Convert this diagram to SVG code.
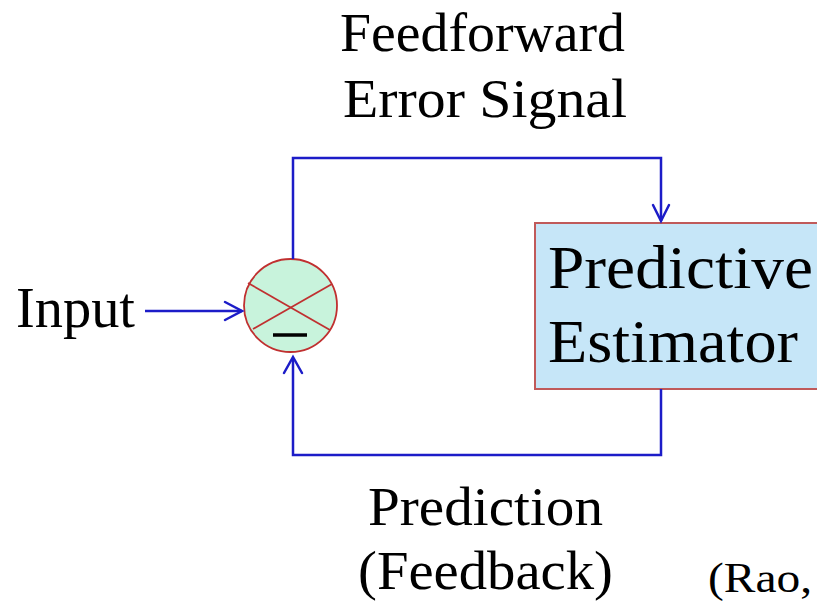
<svg xmlns="http://www.w3.org/2000/svg" width="817" height="602" viewBox="0 0 817 602">
<style>
.t{font-family:"Liberation Serif","Times New Roman",serif;fill:#000}
.c{fill:none;stroke:#1c1cc8;stroke-width:2.5;stroke-linejoin:miter}
.ah{fill:none;stroke:#1c1cc8;stroke-width:2.5;stroke-linecap:round;stroke-linejoin:miter}
</style>
<rect width="817" height="602" fill="#fff"/>
<g id="labels">
<text class="t" x="340" y="51" font-size="55" textLength="285" lengthAdjust="spacingAndGlyphs">Feedforward</text>
<text class="t" x="343" y="117" font-size="55" textLength="284" lengthAdjust="spacingAndGlyphs">Error Signal</text>
<text class="t" x="368" y="525" font-size="55" textLength="235" lengthAdjust="spacingAndGlyphs">Prediction</text>
<text class="t" x="358" y="589" font-size="55" textLength="255" lengthAdjust="spacingAndGlyphs">(Feedback)</text>
<text class="t" x="708" y="592" font-size="42" textLength="104" lengthAdjust="spacingAndGlyphs">(Rao,</text>
</g>
<g id="input">
<text class="t" x="16" y="327" font-size="57" textLength="119" lengthAdjust="spacingAndGlyphs">Input</text>
</g>
<g id="estimator">
<rect x="535" y="223" width="300" height="166" fill="#c6e6f8" stroke="#c05a5a" stroke-width="2"/>
<text class="t" x="548" y="288" font-size="61" textLength="265" lengthAdjust="spacingAndGlyphs">Predictive</text>
<text class="t" x="548" y="362" font-size="61" textLength="250" lengthAdjust="spacingAndGlyphs">Estimator</text>
</g>
<g id="comparator">
<circle cx="290.5" cy="305.5" r="46.5" fill="#c8f3dc" stroke="#c03030" stroke-width="1.8"/>
<line x1="248" y1="283" x2="330" y2="330" stroke="#c03030" stroke-width="1.8"/>
<line x1="332" y1="284" x2="253" y2="329" stroke="#c03030" stroke-width="1.8"/>
<line x1="273" y1="335" x2="307" y2="335" stroke="#000" stroke-width="3.5"/>
</g>
<g id="connectors">
<line class="c" x1="145" y1="311" x2="242" y2="311"/>
<polyline class="ah" points="225,302 242,311 225,320"/>
<polyline class="c" points="293,259 293,158 661,158 661,221"/>
<polyline class="ah" points="653,205 661,221 669,205"/>
<polyline class="c" points="661,389 661,455 293,455 293,358"/>
<polyline class="ah" points="284,373 293,357 302,373"/>
</g>
</svg>
